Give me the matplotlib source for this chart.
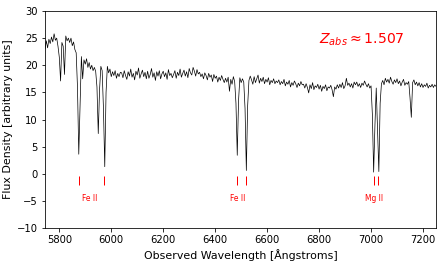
import numpy as np
import matplotlib
matplotlib.use("Agg")
import matplotlib.pyplot as plt

# wavelength grid (Angstrom), 5 A steps
wave_start = 5740
wave_step = 5

flux = [
    # 5740 - 5835
    23.5, 23.0, 24.5, 23.2, 24.8, 24.0, 25.2, 24.3, 25.8, 24.6,
    25.0, 23.5, 21.5, 17.1, 24.2, 23.5, 18.3, 25.4, 24.5, 25.0,
    # 5840 - 5935
    24.2, 25.0, 23.6, 24.3, 22.9, 22.3, 16.0, 3.6, 13.0, 21.6,
    17.5, 21.0, 20.2, 21.2, 19.6, 20.5, 19.3, 20.0, 19.0, 19.6,
    # 5940 - 6035
    18.9, 16.0, 7.4, 15.5, 19.8, 19.0, 12.0, 1.3, 15.0, 19.8,
    18.6, 19.3, 17.9, 18.8, 18.1, 19.0, 17.6, 18.5, 17.9, 18.7,
    # 6040 - 6135
    18.6, 17.7, 19.0, 18.1, 17.4, 18.8, 18.0, 19.3, 17.8, 18.5,
    17.3, 18.9, 18.2, 19.5, 17.6, 18.4, 19.1, 17.9, 18.7, 17.5,
    # 6140 - 6235
    18.9, 17.6, 18.3, 19.4, 17.8, 18.6, 17.2, 18.8, 18.0, 19.0,
    17.5, 18.4, 18.9, 17.9, 18.6, 17.4, 19.2, 18.1, 18.5, 17.7,
    # 6240 - 6335
    18.3, 19.0, 17.6, 18.7, 18.1, 19.3, 17.8, 18.5, 19.1, 18.0,
    18.8, 17.7, 19.4, 18.6, 18.2, 19.6, 18.9, 18.0, 19.2, 18.4,
    # 6340 - 6435
    18.7, 17.9, 18.4, 17.5, 18.6, 18.1, 17.3, 18.5, 17.8, 18.2,
    17.0, 18.3, 17.6, 18.0, 16.9, 17.8, 17.2, 18.1, 17.4, 16.8,
    # 6440 - 6535
    17.6, 16.9, 17.8, 15.2, 17.4, 16.5, 17.9, 17.0, 13.0, 3.4,
    13.5, 17.7, 16.8, 17.5, 16.9, 12.0, 0.6, 12.5, 17.2, 18.0,
    # 6540 - 6635
    17.3, 16.5, 17.9, 16.8, 17.5, 18.2, 16.7, 17.6, 17.0, 17.8,
    16.6, 17.4, 16.9, 17.7, 16.4, 17.2, 16.8, 17.5, 16.6, 17.1,
    # 6640 - 6735
    16.8, 17.3, 16.4, 17.0, 16.6, 17.4, 16.2, 16.9, 16.5, 17.2,
    16.0, 16.8, 16.3, 17.1, 16.6, 15.9, 16.7, 16.2, 17.0, 16.4,
    # 6740 - 6835
    16.5, 15.8, 16.6, 15.9, 14.9, 16.4, 15.7, 16.8, 15.5, 16.2,
    15.9, 16.5, 15.6, 16.3, 15.2, 16.1, 15.7, 16.4, 15.3, 16.0,
    # 6840 - 6935
    15.8, 16.3, 15.5, 14.2, 16.0, 15.6, 16.4, 15.8, 16.5, 15.9,
    16.8, 15.7, 16.2, 17.6, 16.3, 16.7, 16.0, 16.6, 15.8, 16.9,
    # 6940 - 7035
    16.4, 16.9, 16.1, 16.6, 15.9, 16.7, 16.3, 17.1, 16.5, 16.0,
    16.6, 15.8, 16.2, 11.0, 0.3, 9.0, 15.8, 8.0, 0.4, 13.0,
    # 7040 - 7135
    16.6, 17.2, 16.4, 17.6, 16.9, 17.4, 16.7, 17.8, 17.0, 16.5,
    17.3, 16.8, 17.5, 16.6, 17.1, 16.2, 16.9, 17.4, 16.3, 16.8,
    # 7140 - 7235
    16.5, 17.0, 14.0, 10.4, 16.8, 17.3, 16.4, 16.9, 16.2, 16.8,
    16.0, 16.6, 15.9, 16.4, 16.1, 16.7, 15.8, 16.3, 16.0, 16.5,
    # 7240 - 7255
    15.9, 16.4, 16.1, 16.2,
]
wavelength = wave_start + wave_step * np.arange(len(flux))

# absorption line markers (observed wavelength, z = 1.507)
marker_waves = [5876.9, 5973.6, 6484.7, 6518.6, 7010.5, 7028.4]
label_names = ["Fe II", "Fe II", "Mg II"]
label_waves = [5918, 6486, 7010]
z_text = r"$Z_{abs} \approx 1.507$"

fig = plt.figure(figsize=(442 / 72, 268 / 72), dpi=72)
ax = fig.add_axes([45 / 442, 1 - 228 / 268, (436 - 45) / 442, (228 - 11) / 268])

ax.plot(wavelength, flux, color="black", lw=0.7)
ax.vlines(marker_waves, -2.0, -0.5, color="red", lw=1.0)
for name, w in zip(label_names, label_waves):
    ax.text(w, -5, name, color="red", ha="center", fontsize=7.5)
ax.text(6800, 24, z_text, color="red", fontsize=14)

ax.set_xlim(5745, 7250)
ax.set_ylim(-10, 30)
ax.set_xticks(np.arange(5800, 7201, 200))
ax.set_yticks(np.arange(-10, 31, 5))
ax.set_xlabel("Observed Wavelength [Ångstroms]", fontsize=11)
ax.set_ylabel("Flux Density [arbitrary units]", fontsize=11)

fig.savefig("out.png", dpi=72)
